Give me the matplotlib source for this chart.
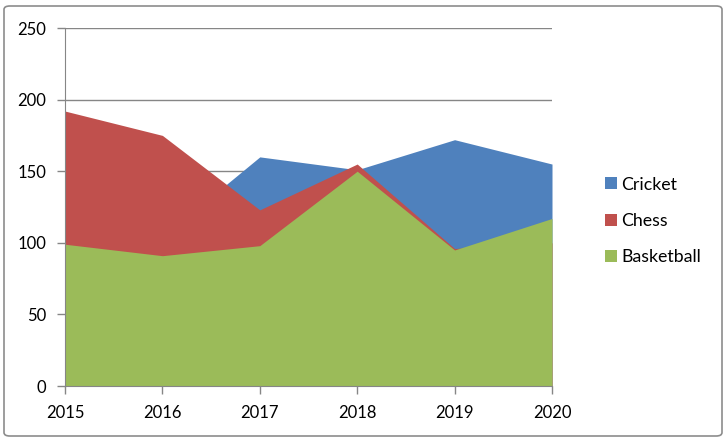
import matplotlib.pyplot as plt
from matplotlib.patches import FancyBboxPatch, Patch

plt.rcParams['font.family'] = ['Lato', 'DejaVu Sans']

years = ['2015', '2016', '2017', '2018', '2019', '2020']
cricket = [120, 104, 160, 151, 172, 155]
chess = [192, 175, 123, 155, 96, 100]
basketball = [99, 91, 98, 150, 95, 117]

series = [('Cricket', cricket, '#4F81BD'),
          ('Chess', chess, '#C0504D'),
          ('Basketball', basketball, '#9BBB59')]

fig = plt.figure(figsize=(7.28, 4.40), dpi=100)
ax = fig.add_axes([65 / 728, 54 / 440, 487 / 728, 358 / 440])

# outer chart border
fig.patches.append(FancyBboxPatch((4 / 728, 4 / 440), 718 / 728, 430 / 440,
                                  boxstyle='round,pad=0,rounding_size=0.008',
                                  transform=fig.transFigure, fill=False,
                                  edgecolor='#8c8c8c', linewidth=1.2))

x = list(range(len(years)))
for name, vals, col in series:
    ax.fill_between(x, 0, vals, color=col, linewidth=0, zorder=2)

ax.set_xlim(0, len(years) - 1)
ax.set_ylim(0, 250)
ax.set_yticks(range(0, 251, 50))
ax.set_xticks(x)
ax.set_xticklabels(years)
ax.grid(axis='y', color='#868686', linewidth=1, zorder=1)
ax.set_axisbelow(True)

for s in ['top', 'right']:
    ax.spines[s].set_visible(False)
for s in ['left', 'bottom']:
    ax.spines[s].set_color('#868686')
    ax.spines[s].set_zorder(3)
ax.tick_params(axis='both', colors='#868686', labelcolor='black',
               labelsize=12, length=6, width=1)
ax.tick_params(axis='x', pad=8)
ax.tick_params(axis='y', pad=7.5)

handles = [Patch(facecolor=col, label=name) for name, _, col in series]
fig.legend(handles=handles, loc='center left', bbox_to_anchor=(589 / 728, 219 / 440),
           frameon=False, fontsize=12.8, handlelength=0.65, handleheight=0.65,
           handletextpad=0.25, labelspacing=1.15)

fig.savefig('out.png', dpi=100)
